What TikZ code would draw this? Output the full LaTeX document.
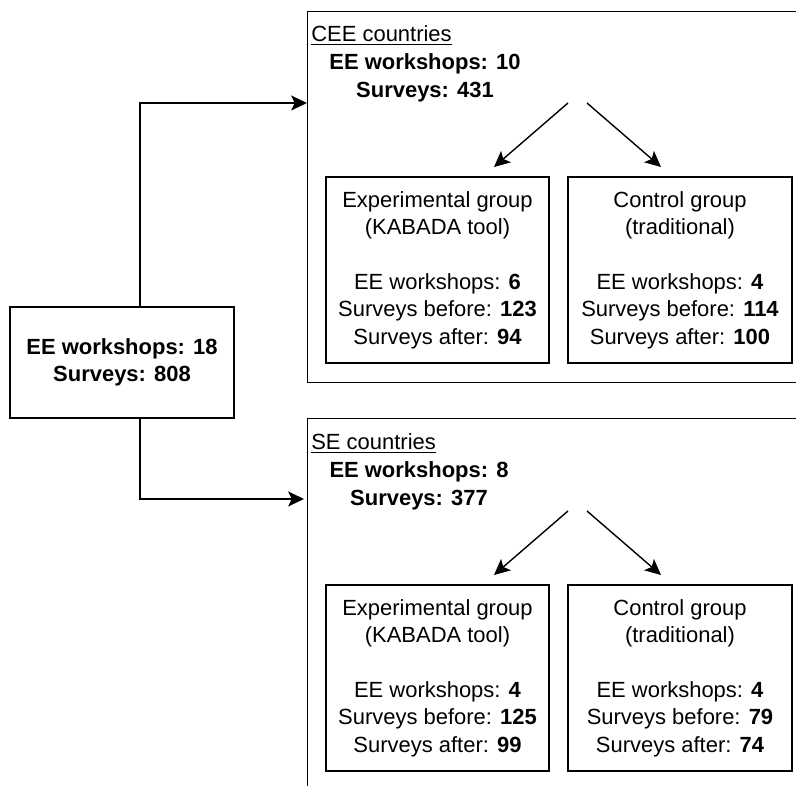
\documentclass[tikz,border=0pt]{standalone}
\usepackage{fontspec}
\setmainfont{Liberation Sans}
\usepackage{tikz}
\usetikzlibrary{arrows.meta, positioning}

\begin{document}
\begin{tikzpicture}[
  x=0.02cm, y=-0.02cm,
  every node/.style={font=\fontsize{12.5pt}{15.6pt}\selectfont},
  region/.style={rectangle, draw, line width=0.8pt, anchor=north west, minimum width=9.9cm, inner sep=0pt},
  total/.style={rectangle, draw, line width=0.8pt, minimum width=4.48cm, minimum height=2.22cm, align=center},
  group/.style={rectangle, draw, line width=0.8pt, minimum width=4.46cm, minimum height=3.72cm, align=center, inner sep=0pt},
  summary/.style={align=center, inner sep=0pt},
  heading/.style={anchor=base west, inner sep=0pt},
  arr/.style={-{Stealth[length=9pt, width=8.5pt, inset=2pt]}, line width=0.8pt},
]
\clip (0,0) rectangle (796,786);

% overall totals
\node[total] (main) at (122,362.5) {\textbf{EE workshops: 18}\\\textbf{Surveys: 808}};

% CEE countries
\node[region, minimum height=7.42cm] (cee) at (307,11) {};
\node[heading] (ceetitle) at (311,42) {\underline{CEE countries}};
\node[summary] (ceesum) at (425,78) {\textbf{EE workshops: 10}\\\textbf{Surveys: 431}};
\node[group] (ceeexp) at (437.5,270) {Experimental group\\(KABADA tool)\\[15.6pt]EE workshops: \textbf{6}\\Surveys before: \textbf{123}\\Surveys after: \textbf{94}};
\node[group, minimum width=4.48cm] (ceectl) at (680,270) {Control group\\(traditional)\\[15.6pt]EE workshops: \textbf{4}\\Surveys before: \textbf{114}\\Surveys after: \textbf{100}};

% SE countries
\node[region, minimum height=8cm] (se) at (307,418) {};
\node[heading] (setitle) at (311,450) {\underline{SE countries}};
\node[summary] (sesum) at (419,486) {\textbf{EE workshops: 8}\\\textbf{Surveys: 377}};
\node[group] (seexp) at (437.5,678) {Experimental group\\(KABADA tool)\\[15.6pt]EE workshops: \textbf{4}\\Surveys before: \textbf{125}\\Surveys after: \textbf{99}};
\node[group, minimum width=4.48cm] (sectl) at (680,678) {Control group\\(traditional)\\[15.6pt]EE workshops: \textbf{4}\\Surveys before: \textbf{79}\\Surveys after: \textbf{74}};

% free ends of the connectors
\coordinate (ceein) at (307,103);
\coordinate (sein)  at (304,499);
\coordinate (ceefl) at (568,103);
\coordinate (ceefr) at (587,103);
\coordinate (ceetl) at (494,167);
\coordinate (ceetr) at (661,167);
\coordinate (sefl)  at (568,511);
\coordinate (sefr)  at (587,511);
\coordinate (setl)  at (494,575);
\coordinate (setr)  at (661,575);

\draw[arr] ([xshift=0.36cm]main.north) |- (ceein);
\draw[arr] ([xshift=0.36cm]main.south) |- (sein);
\draw[arr] (ceefl) -- (ceetl);
\draw[arr] (ceefr) -- (ceetr);
\draw[arr] (sefl) -- (setl);
\draw[arr] (sefr) -- (setr);
\end{tikzpicture}
\end{document}
